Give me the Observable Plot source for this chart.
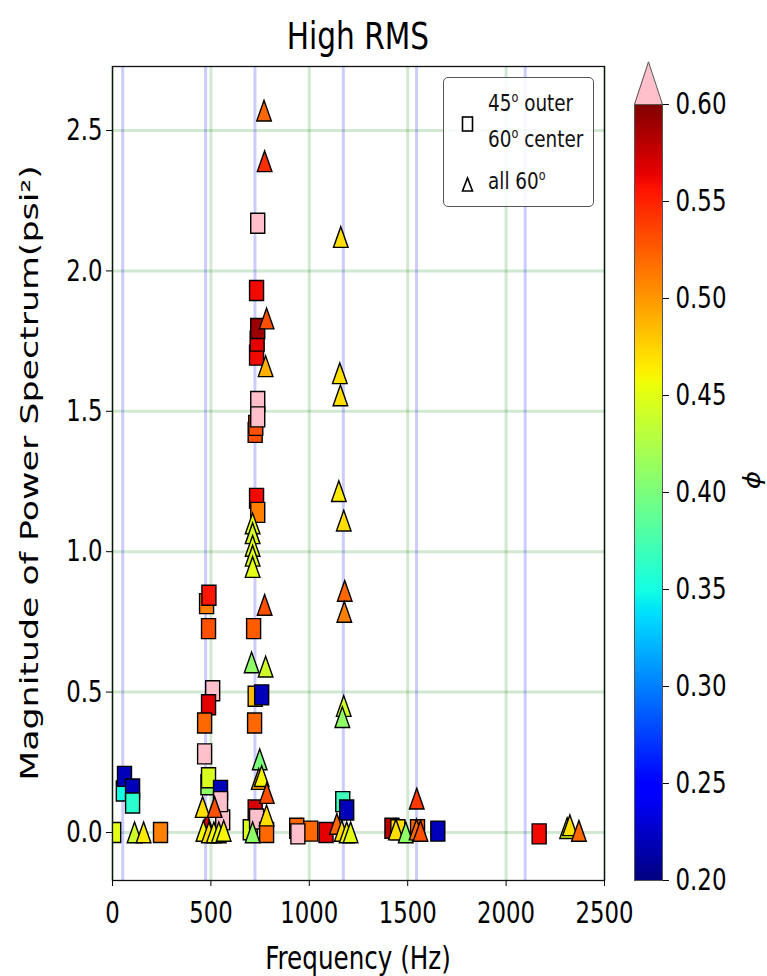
<!DOCTYPE html>
<html><head><meta charset="utf-8">
<script src="https://cdn.jsdelivr.net/npm/d3@7"></script>
<script src="https://cdn.jsdelivr.net/npm/@observablehq/plot@0.6"></script>
<style>
body{margin:0;background:#fff;}
#wrap{position:relative;width:767px;height:976px;overflow:hidden;font-family:"DejaVu Sans",sans-serif;}
#wrap svg{position:absolute;left:0;top:0;}
#legend{position:absolute;left:443px;top:77px;width:151px;height:130px;border:1.3px solid #555;border-radius:5px;background:rgba(255,255,255,0.85);box-sizing:border-box;}
.lt{position:absolute;left:488px;font-size:23px;line-height:1;white-space:nowrap;transform-origin:0 100%;transform:scaleX(0.8);color:#111;}
.lt sup{font-size:14px;vertical-align:9px;line-height:0;}
</style></head><body><div id="wrap"><div id="legend"></div></div>
<script>
// ---------- data ----------
const title = "High RMS";
const xLabel = "Frequency (Hz)";
const yLabel = "Magnitude of Power Spectrum(psi²)";
const cbLabel = "ϕ";
const xTicks = [0, 500, 1000, 1500, 2000, 2500];
const yTicks = [0, 0.5, 1.0, 1.5, 2.0, 2.5];
const cbTicks = [0.20, 0.25, 0.30, 0.35, 0.40, 0.45, 0.50, 0.55, 0.60];
const harmonicFreqs = [52, 473, 724, 1173, 1545, 2097];
const legendSquare = ["45", "o", " outer", "60", "o", " center"];
const legendTriangle = ["all 60", "o"];

// squares: 45° outer / 60° center
const sqFreq = [55, 61, 102, 102, 6, 244,
  478, 490, 488, 509, 488, 468, 468, 485, 488, 549, 560, 549,
  738, 732, 732, 735, 738, 725, 728, 738, 738, 732, 738, 717, 725, 758, 722, 700, 725, 732, 783,
  936, 1007, 942, 1085, 1170, 1190, 1420, 1450, 1550, 1653, 2168];
const sqMag = [0.148, 0.200, 0.155, 0.105, 0.0, 0.0,
  0.815, 0.845, 0.726, 0.505, 0.455, 0.39, 0.28, 0.17, 0.195, 0.15, 0.045, 0.11,
  2.17, 1.93, 1.70, 1.75, 1.795, 1.425, 1.45, 1.535, 1.48, 1.19, 1.14, 0.726, 0.485, 0.49, 0.39, 0.01, 0.08, 0.048, 0.0,
  0.015, 0.005, -0.005, 0.0, 0.11, 0.08, 0.015, 0.01, 0.01, 0.005, -0.005];
const sqPhi = [0.35, 0.22, 0.22, 0.36, 0.45, 0.51,
  0.51, 0.555, 0.53, 0.65, 0.565, 0.52, 0.65, 0.41, 0.445, 0.22, 0.65, 0.65,
  0.65, 0.56, 0.56, 0.565, 0.59, 0.53, 0.53, 0.65, 0.65, 0.56, 0.51, 0.525, 0.485, 0.22, 0.52, 0.445, 0.57, 0.65, 0.52,
  0.52, 0.52, 0.65, 0.565, 0.37, 0.22, 0.58, 0.47, 0.52, 0.22, 0.56];

// triangles: all 60°
const triFreq = [112, 158, 480, 458, 519, 462, 490, 515, 540, 565,
  770, 773, 783, 778, 712, 712, 712, 712, 712, 773, 707, 778, 748, 743, 758, 784, 783, 712,
  1160, 1155, 1158, 1150, 1175, 1180, 1178, 1175, 1168, 1140, 1165, 1190, 1210,
  1440, 1490, 1546, 1545, 1565, 2310, 2324, 2370];
const triMag = [0.0, 0.0, 0.03, 0.09, 0.09, 0.005, 0.0, 0.0, 0.0, 0.005,
  2.57, 2.39, 1.83, 1.66, 1.10, 1.065, 1.02, 0.985, 0.945, 0.81, 0.605, 0.59, 0.26, 0.19, 0.20, 0.14, 0.06, 0.0,
  2.12, 1.635, 1.556, 1.215, 1.11, 0.86, 0.785, 0.45, 0.41, 0.03, 0.005, 0.0, 0.0,
  0.01, 0.0, 0.12, 0.01, 0.005, 0.015, 0.025, 0.005];
const triPhi = [0.44, 0.465, 0.57, 0.47, 0.53, 0.46, 0.47, 0.46, 0.45, 0.46,
  0.52, 0.545, 0.53, 0.49, 0.45, 0.445, 0.45, 0.445, 0.45, 0.53, 0.41, 0.44, 0.40, 0.49, 0.46, 0.53, 0.47, 0.41,
  0.47, 0.47, 0.47, 0.465, 0.47, 0.52, 0.51, 0.44, 0.41, 0.52, 0.47, 0.46, 0.45,
  0.47, 0.41, 0.54, 0.52, 0.53, 0.45, 0.47, 0.52];

// ---------- helpers ----------
function seg(pts, t) {
  for (let i = 1; i < pts.length; i++) {
    if (t <= pts[i][0]) {
      const [x0, y0] = pts[i - 1], [x1, y1] = pts[i];
      return y0 + (y1 - y0) * (t - x0) / (x1 - x0);
    }
  }
  return pts[pts.length - 1][1];
}
function jet(t) {
  if (t > 1.0001) return "pink"; // over-range (extend max)
  t = Math.max(0, Math.min(1, t));
  const r = seg([[0,0],[0.35,0],[0.66,1],[0.89,1],[1,0.5]], t);
  const g = seg([[0,0],[0.125,0],[0.375,1],[0.64,1],[0.91,0],[1,0]], t);
  const b = seg([[0,0.5],[0.11,1],[0.34,1],[0.65,0],[1,0]], t);
  return `rgb(${Math.round(r*255)},${Math.round(g*255)},${Math.round(b*255)})`;
}
const colorOpts = {type: "linear", domain: [0.2, 0.6], interpolate: jet};

const squareSym = {draw(ctx) { ctx.moveTo(-7, -10); ctx.lineTo(7, -10); ctx.lineTo(7, 10); ctx.lineTo(-7, 10); ctx.closePath(); }};
const triSym = {draw(ctx) { ctx.moveTo(0, -10.5); ctx.lineTo(7.3, 10.2); ctx.lineTo(-7.3, 10.2); ctx.closePath(); }};

const squares = sqFreq.map((f, i) => ({f, m: sqMag[i], p: sqPhi[i]}));
const triangles = triFreq.map((f, i) => ({f, m: triMag[i], p: triPhi[i]}));

const W = 767, H = 976;
const font = "DejaVu Sans";

// ---------- main plot ----------
const main = Plot.plot({
  width: W, height: H,
  marginLeft: 112, marginRight: 163, marginTop: 66, marginBottom: 96,
  style: {fontFamily: font, fontSize: "30px", background: "transparent", color: "#000", overflow: "visible"},
  x: {domain: [0, 2500], ticks: xTicks, tickSize: 6, tickPadding: 15, tickFormat: d => String(d), label: null},
  y: {domain: [-0.171, 2.728], ticks: yTicks, tickSize: 6, tickPadding: 4, tickFormat: d3.format(".1f"), label: null},
  color: colorOpts,
  marks: [
    Plot.ruleX(xTicks, {stroke: "green", strokeOpacity: 0.18, strokeWidth: 3}),
    Plot.ruleY(yTicks, {stroke: "green", strokeOpacity: 0.18, strokeWidth: 3}),
    Plot.ruleX(harmonicFreqs, {stroke: "blue", strokeOpacity: 0.2, strokeWidth: 3}),
    Plot.dot(squares, {x: "f", y: "m", fill: "p", symbol: squareSym, stroke: "black", strokeWidth: 1.4, clip: true}),
    Plot.dot(triangles, {x: "f", y: "m", fill: "p", symbol: triSym, stroke: "black", strokeWidth: 1.4, strokeLinejoin: "miter", clip: true}),
    Plot.frame({stroke: "#111", strokeWidth: 1.3})
  ]
});

// ---------- colorbar ----------
const step = 0.001;
const bins = d3.range(0.2, 0.6 - step / 2, step);
const extendFrac = 0.055;
const ext = [{x: 0, y: 0.6}, {x: 0.5, y: 0.6 + 0.4 * extendFrac}, {x: 1, y: 0.6}];
const cb = Plot.plot({
  width: W, height: H,
  marginLeft: 634, marginRight: 105, marginTop: 104, marginBottom: 96,
  style: {fontFamily: font, fontSize: "31px", background: "transparent", color: "#000", overflow: "visible"},
  x: {domain: [0, 1], axis: null},
  y: {domain: [0.2, 0.6], ticks: cbTicks, tickFormat: d3.format(".2f"), axis: "right", tickSize: 6, tickPadding: 7, label: null},
  color: colorOpts,
  marks: [
    Plot.rect(bins, {x1: () => 0, x2: () => 1, y1: d => d, y2: d => d + step * 1.6, fill: d => d + step / 2, shapeRendering: "crispEdges"}),
    Plot.areaY(ext, {x: "x", y1: () => 0.6, y2: "y", fill: "pink"}),
    Plot.line(ext, {x: "x", y: "y", stroke: "#555", strokeWidth: 1}),
    Plot.frame({stroke: "#555", strokeWidth: 1})
  ]
});

const wrap = document.getElementById("wrap");
wrap.appendChild(main);
wrap.appendChild(cb);
wrap.appendChild(document.getElementById("legend"));

// condense axis text horizontally
function condense(svg, sx) {
  svg.querySelectorAll('g[aria-label*="axis"] text').forEach(t => {
    const tr = t.getAttribute("transform") || "";
    t.setAttribute("transform", tr + ` scale(${sx},1)`);
  });
}
condense(main, 0.76);
condense(cb, 0.74);

// titles and labels as real text
const ms = d3.select(main);
ms.append("text").attr("transform", "translate(358,49) scale(0.8,1)")
  .attr("text-anchor", "middle").attr("font-size", 37).attr("font-family", font).text(title);
ms.append("text").attr("transform", "translate(358,969) scale(0.77,1)")
  .attr("text-anchor", "middle").attr("font-size", 32).attr("font-family", font).text(xLabel);
ms.append("text").attr("transform", "translate(30,473) rotate(-90) scale(1.45,1)")
  .attr("text-anchor", "middle").attr("dominant-baseline", "central").attr("font-size", 24).attr("font-family", font).text(yLabel);
d3.select(cb).append("text").attr("transform", "translate(752,480) rotate(-90) scale(1,0.85)")
  .attr("text-anchor", "middle").attr("dominant-baseline", "central").attr("font-size", 28).attr("font-style", "italic").attr("font-family", font).text(cbLabel);

// legend
const leg = document.getElementById("legend");
function addLine(parts, top) {
  const d = document.createElement("div");
  d.className = "lt";
  d.style.left = "44px";
  d.style.top = top + "px";
  let html = "";
  for (let i = 0; i < parts.length; i += 2) {
    html += parts[i] + (parts[i + 1] ? "<sup>" + parts[i + 1] + "</sup>" : "");
  }
  d.innerHTML = html;
  leg.appendChild(d);
}
addLine(legendSquare.slice(0, 3).concat([""]), 14);
addLine(legendSquare.slice(3, 6).concat([""]), 50);
addLine(legendTriangle, 92);
// legend markers
const lsvg = d3.select(leg).append("svg").attr("width", 151).attr("height", 130).style("position", "absolute").style("left", "-1px").style("top", "-1px");
lsvg.append("rect").attr("x", 19.5).attr("y", 40).attr("width", 10).attr("height", 14).attr("fill", "none").attr("stroke", "#000").attr("stroke-width", 1.6);
lsvg.append("path").attr("d", "M24.5,101 L29.5,114 L19.5,114 Z").attr("fill", "none").attr("stroke", "#000").attr("stroke-width", 1.6);
</script>
</body></html>
